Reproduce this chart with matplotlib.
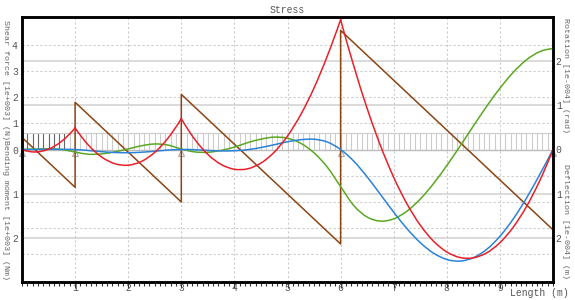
import numpy as np
import matplotlib.pyplot as plt
from matplotlib.ticker import MultipleLocator
from matplotlib.path import Path
from matplotlib.patches import PathPatch

plt.rcParams['font.family'] = ['Liberation Mono', 'DejaVu Sans Mono']

# supports of the continuous beam (m)
supports = [0, 1, 3, 6, 10]

# shear force [1e+003 N], straight between the breakpoints
shear_x = [0, 1, 1, 3, 3, 6, 6, 10]
shear_v = [0.46, -1.44, 1.80, -2.00, 2.10, -3.60, 4.54, -3.06]

pos = np.arange(0, 10.01, 0.25)
# bending moment [1e+003 Nm], sagging positive (drawn downwards)
moment = [0.0, 0.056, -0.008, -0.189, -0.49, -0.100, 0.170, 0.322, 0.355, 0.270,
          0.065, -0.258, -0.70, -0.235, 0.111, 0.339, 0.447, 0.437, 0.308, 0.061,
          -0.306, -0.791, -1.395, -2.117, -2.94, -1.884, -0.928, -0.089, 0.630, 1.231,
          1.713, 2.076, 2.320, 2.446, 2.453, 2.341, 2.110, 1.761, 1.293, 0.706, 0.0]
# rotation [1e-004 rad]
rotation = [0.002, 0.009, 0.015, -0.001, -0.058, -0.107, -0.099, -0.052, 0.013, 0.085,
            0.125, 0.100, 0.012, -0.054, -0.063, -0.020, 0.055, 0.155, 0.235, 0.280,
            0.255, 0.140, -0.076, -0.400, -0.84, -1.272, -1.529, -1.621, -1.570, -1.396,
            -1.123, -0.772, -0.364, 0.077, 0.531, 0.975, 1.387, 1.745, 2.029, 2.215, 2.281]
# deflection [1e-004 m], downwards positive
deflection = [0.0, -0.002, -0.004, -0.003, 0.0, 0.022, 0.049, 0.068, 0.073, 0.062,
              0.039, 0.013, 0.0, 0.005, 0.021, 0.032, 0.028, 0.004, -0.045, -0.108,
              -0.175, -0.222, -0.232, -0.170, 0.0, 0.266, 0.620, 1.017, 1.419, 1.792,
              2.109, 2.347, 2.490, 2.526, 2.450, 2.262, 1.966, 1.574, 1.102, 0.566, 0.0]

shear_lim = 5.05
other_lim = 3.0
r = shear_lim / other_lim


def smooth_line(a, xs, ys, breaks, color):
    # draw a smooth bezier line through the samples, with corners at breaks
    xs = np.asarray(xs, float)
    ys = np.asarray(ys, float)
    idx = [int(np.argmin(np.abs(xs - b))) for b in breaks]
    verts, codes = [], []
    for i0, i1 in zip(idx[:-1], idx[1:]):
        px, py = xs[i0:i1 + 1], ys[i0:i1 + 1]
        tx = np.gradient(px, edge_order=2)
        ty = np.gradient(py, edge_order=2)
        verts.append((px[0], py[0]))
        codes.append(Path.MOVETO)
        for j in range(len(px) - 1):
            verts += [(px[j] + tx[j] / 3, py[j] + ty[j] / 3),
                      (px[j + 1] - tx[j + 1] / 3, py[j + 1] - ty[j + 1] / 3),
                      (px[j + 1], py[j + 1])]
            codes += [Path.CURVE4] * 3
    patch = PathPatch(Path(verts, codes), fill=False, edgecolor=color, lw=1.1,
                      joinstyle='round', capstyle='round')
    a.add_patch(patch)


fig = plt.figure(figsize=(5.75, 3.0), dpi=100)
ax = fig.add_axes([22 / 575, 18 / 300, 531 / 575, 265 / 300])
ax2 = ax.twinx()

ax.set_xlim(0, 10)
ax.set_ylim(-shear_lim, shear_lim)
ax2.set_ylim(-other_lim, other_lim)

# grid
for k in range(1, 5):
    ax.axhline(k, color='#cccccc', lw=0.8, ls=(0, (2, 2)), zorder=0)
    ax.axhline(-k, color='#cccccc', lw=0.8, ls=(0, (2, 2)), zorder=0)
for k in [1, 2]:
    ax.axhline(k * r, color='#d4d4d4', lw=1.2, zorder=0)
    ax.axhline(-k * r, color='#d4d4d4', lw=1.2, zorder=0)
for k in range(1, 10):
    ax.axvline(k, color='#cccccc', lw=0.8, ls=(0, (2, 2)), zorder=0)

# load band
band_h = 0.61
hx = np.linspace(0, 10, 101)
ax.vlines(hx[hx < 0.85], 0, band_h, colors='#666666', lw=0.8, zorder=1)
ax.vlines(hx[hx >= 0.85], 0, band_h, colors='#cccccc', lw=0.8, zorder=1)
ax.hlines(band_h, 0, 10, colors='#cccccc', lw=0.8, zorder=1)
ax.axhline(0, color='#bbbbbb', lw=1, zorder=1)

# supports
ax.plot(supports, [-0.12] * len(supports), '^', ms=5, mfc='white', mec='#aaaaaa',
        mew=0.8, clip_on=False, zorder=2)

# curves
ax.plot(shear_x, shear_v, color='#8b4513', lw=1.1, zorder=3)
smooth_line(ax2, pos, rotation, [0, 10], '#5aa821')
smooth_line(ax2, pos, -np.array(deflection), [0, 10], '#2b82d9')
smooth_line(ax2, pos, -np.array(moment), supports, '#e8202a')

# ticks
ax.set_xticks(range(1, 10))
ax.xaxis.set_minor_locator(MultipleLocator(0.1))
ax.tick_params(axis='x', which='major', direction='out', length=4, width=0.8,
               color='#333333', pad=-3, labelsize=7, labelcolor='#555555')
ax.tick_params(axis='x', which='minor', direction='out', length=3, width=0.8,
               color='#333333')
ax.set_yticks([-2 * r, -r, 0, 1, 2, 3, 4])
ax.set_yticklabels(['2', '1', '0', '1', '2', '3', '4'])
ax.tick_params(axis='y', length=0, pad=3, labelsize=7, labelcolor='#555555')
ax2.set_yticks([-2, -1, 0, 1, 2])
ax2.set_yticklabels(['2', '1', '0', '1', '2'])
ax2.tick_params(axis='y', length=0, pad=2, labelsize=7, labelcolor='#555555')

for a in (ax, ax2):
    for s in a.spines.values():
        s.set_color('black')
        s.set_linewidth(1.8)

# texts
fig.text(287.5 / 575, 1 - 10 / 300, 'Stress', ha='center', va='center',
         fontsize=7, color='#555555')
fig.text(5 / 575, 1 - 150 / 300,
         'Shear force [1e+003] (N)Bending moment [1e+003] (Nm)', rotation=-90,
         ha='center', va='center', fontsize=6.0, color='#666666')
fig.text(566 / 575, 1 - 18 / 300, 'Rotation [1e-004] (rad)', rotation=-90,
         ha='center', va='top', fontsize=6.0, color='#666666')
fig.text(566 / 575, 1 - 279 / 300, 'Deflection [1e-004] (m)', rotation=-90,
         ha='center', va='bottom', fontsize=6.0, color='#666666')
fig.text(569 / 575, 1 - 293 / 300, 'Length (m)', ha='right', va='center',
         fontsize=7, color='#555555')

fig.savefig('out.png', dpi=100)
